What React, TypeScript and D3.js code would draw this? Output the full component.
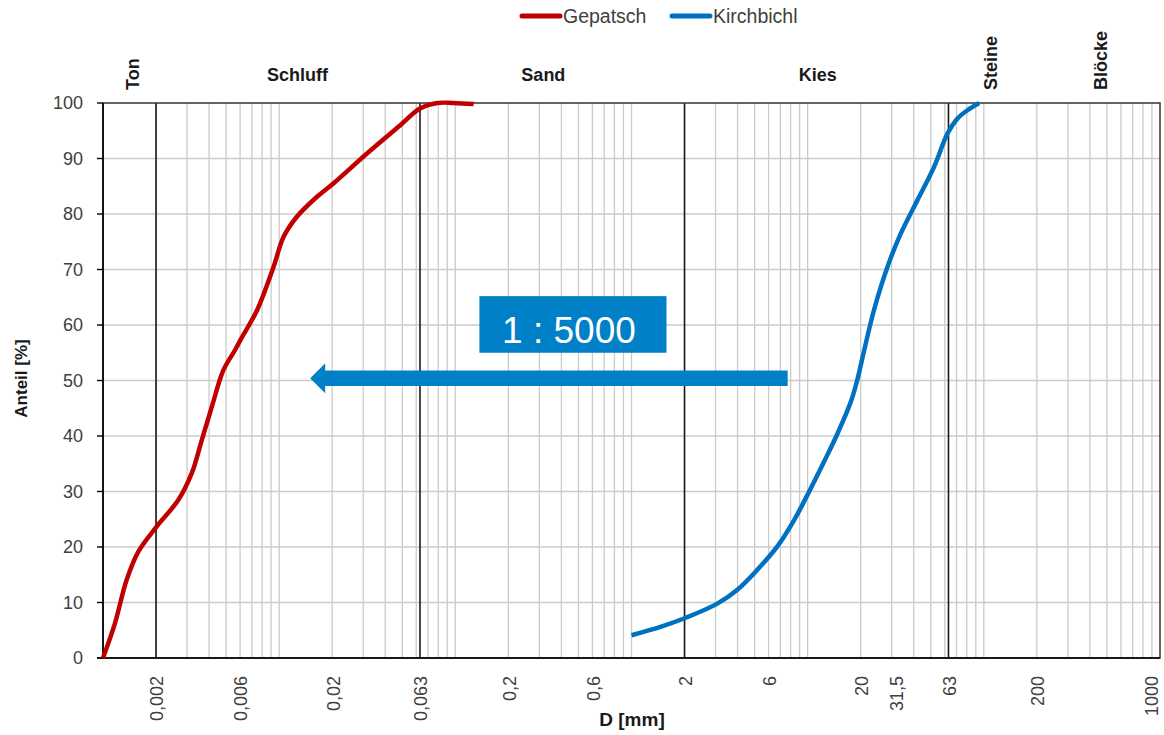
import React, { useEffect, useRef } from 'react';
import * as d3 from 'd3';

// grain size distribution, D in mm, share in %
const gepatschD = [0.001, 0.00117, 0.00136, 0.00159, 0.00202, 0.00268, 0.00319, 0.00364, 0.00415, 0.00483, 0.00562, 0.0061, 0.0075, 0.0093, 0.0106, 0.0126, 0.0164, 0.0203, 0.0315, 0.0487, 0.063, 0.079, 0.098, 0.127];
const gepatschP = [0, 6.3, 14, 19.2, 23.7, 28.5, 33.3, 39.3, 45.3, 51.9, 55.5, 57.6, 62.7, 70.5, 75.9, 79.5, 83.1, 85.5, 90.9, 96.0, 99.0, 100, 100, 99.8];

const kirchbichlD = [1.0, 1.46, 2.05, 3.07, 3.99, 5.18, 6.73, 8.36, 10.2, 12.4, 14.8, 17.6, 19.2, 20.5, 23.8, 28.4, 33.8, 42.0, 52.2, 62.2, 70.9, 80.8, 94.0];
const kirchbichlP = [4.1, 5.6, 7.3, 9.8, 12.3, 15.9, 20.1, 24.8, 30.0, 35.4, 40.5, 46.2, 50.3, 54.2, 62.7, 70.5, 76.5, 82.5, 88.5, 94.5, 97.2, 98.7, 100];

const seriesNames = ['Gepatsch', 'Kirchbichl'];
const seriesColors = ['#C00000', '#0070C0'];

const xTickValues = [0.002, 0.006, 0.02, 0.063, 0.2, 0.6, 2, 6, 20, 31.5, 63, 200, 1000];
const xTickLabels = ['0,002', '0,006', '0,02', '0,063', '0,2', '0,6', '2', '6', '20', '31,5', '63', '200', '1000'];
const yTickValues = [0, 10, 20, 30, 40, 50, 60, 70, 80, 90, 100];

// boundaries between soil classes
const classBounds = [0.002, 0.063, 2, 63];
const classNames = ['Ton', 'Schluff', 'Sand', 'Kies', 'Steine', 'Blöcke'];
const classLabelAt = [0.00148, 0.0127, 0.316, 11.4, 110, 462];
const classRotated = [true, false, false, false, true, true];

// scale annotation
const ratioText = '1 : 5000';
const arrowFrom = 7.7;
const arrowTo = 0.015;
const arrowLevel = 50.4;

const FONT = '"Liberation Sans", Arial, sans-serif';

const App: React.FC = () => {
  const svgRef = useRef<SVGSVGElement>(null);
  const width = 1164;
  const height = 735;

  useEffect(() => {
    document.body.style.margin = '0';
    if (!svgRef.current) return;
    const svg = d3.select(svgRef.current);
    svg.selectAll('*').remove();

    const x = d3.scaleLog().domain([0.001, 1000]).range([103, 1160]);
    const y = d3.scaleLinear().domain([0, 100]).range([658, 103]);
    const [x0, x1] = x.range();
    const [y0, y1] = y.range();

    // minor grid
    const minor = x.ticks().filter(d => d > 0.001 && d < 1000);
    svg.append('g')
      .selectAll('line')
      .data(minor)
      .enter()
      .append('line')
      .attr('x1', d => x(d)).attr('x2', d => x(d))
      .attr('y1', y0).attr('y2', y1)
      .attr('stroke', '#cbcbcb')
      .attr('stroke-width', 1.3);

    svg.append('g')
      .selectAll('line')
      .data(yTickValues.filter(v => v > 0 && v < 100))
      .enter()
      .append('line')
      .attr('x1', x0).attr('x2', x1)
      .attr('y1', d => y(d)).attr('y2', d => y(d))
      .attr('stroke', '#cbcbcb')
      .attr('stroke-width', 1.5);

    // class boundaries
    svg.append('g')
      .selectAll('line')
      .data(classBounds)
      .enter()
      .append('line')
      .attr('x1', d => x(d)).attr('x2', d => x(d))
      .attr('y1', y0).attr('y2', y1)
      .attr('stroke', '#1a1a1a')
      .attr('stroke-width', 1.6);

    // frame
    svg.append('rect')
      .attr('x', x0).attr('y', y1)
      .attr('width', x1 - x0).attr('height', y0 - y1)
      .attr('fill', 'none')
      .attr('stroke', '#333')
      .attr('stroke-width', 1.5);

    // y axis
    svg.append('line')
      .attr('x1', x0).attr('x2', x0).attr('y1', y0).attr('y2', y1)
      .attr('stroke', '#000').attr('stroke-width', 1.6);
    svg.append('line')
      .attr('x1', x0 - 6).attr('x2', x1).attr('y1', y0).attr('y2', y0)
      .attr('stroke', '#000').attr('stroke-width', 1.6);
    const yt = svg.append('g');
    yt.selectAll('line')
      .data(yTickValues)
      .enter()
      .append('line')
      .attr('x1', x0 - 6).attr('x2', x0)
      .attr('y1', d => y(d)).attr('y2', d => y(d))
      .attr('stroke', '#000').attr('stroke-width', 1.4);
    yt.selectAll('text')
      .data(yTickValues)
      .enter()
      .append('text')
      .attr('x', x0 - 20)
      .attr('y', d => y(d))
      .attr('dy', '0.35em')
      .attr('text-anchor', 'end')
      .style('font-family', FONT)
      .style('font-size', '18px')
      .attr('fill', '#404040')
      .text(d => d);

    // x tick labels (kept inside the right edge)
    svg.append('g')
      .selectAll('text')
      .data(xTickValues)
      .enter()
      .append('text')
      .attr('transform', d => `translate(${Math.min(x(d) + 1, x1 - 8)},${y0 + 18}) rotate(-90)`)
      .attr('dy', '0.35em')
      .attr('text-anchor', 'end')
      .style('font-family', FONT)
      .style('font-size', '18px')
      .attr('fill', '#404040')
      .text((d, i) => xTickLabels[i]);

    // class names
    svg.append('g')
      .selectAll('text')
      .data(classNames)
      .enter()
      .append('text')
      .attr('transform', (d, i) => classRotated[i]
        ? `translate(${x(classLabelAt[i])},90) rotate(-90)`
        : `translate(${x(classLabelAt[i])},81)`)
      .attr('dy', (d, i) => classRotated[i] ? '0.35em' : 0)
      .attr('text-anchor', (d, i) => classRotated[i] ? 'start' : 'middle')
      .style('font-family', FONT)
      .style('font-size', '18px')
      .style('font-weight', 'bold')
      .attr('fill', '#1a1a1a')
      .text(d => d);

    // axis titles
    svg.append('text')
      .attr('transform', `translate(21,${(y0 + y1) / 2 - 2}) rotate(-90)`)
      .attr('dy', '0.35em')
      .attr('text-anchor', 'middle')
      .style('font-family', FONT)
      .style('font-size', '17px')
      .style('font-weight', 'bold')
      .attr('fill', '#1a1a1a')
      .text('Anteil [%]');

    svg.append('text')
      .attr('x', 632)
      .attr('y', 726)
      .attr('text-anchor', 'middle')
      .style('font-family', FONT)
      .style('font-size', '19px')
      .style('font-weight', 'bold')
      .attr('fill', '#1a1a1a')
      .text('D [mm]');

    // curves
    const line = d3.line<[number, number]>()
      .x(d => x(d[0]))
      .y(d => y(d[1]))
      .curve(d3.curveCatmullRom.alpha(0.5));

    const series: [number, number][][] = [
      gepatschD.map((d, i) => [d, gepatschP[i]] as [number, number]),
      kirchbichlD.map((d, i) => [d, kirchbichlP[i]] as [number, number]),
    ];

    series.forEach((s, i) => {
      svg.append('path')
        .datum(s)
        .attr('fill', 'none')
        .attr('stroke', seriesColors[i])
        .attr('stroke-width', 4.5)
        .attr('stroke-linejoin', 'round')
        .attr('d', line);
    });

    // annotation box
    const boxL = x(0.137), boxR = x(1.58);
    const boxT = y(65.2), boxB = y(55);
    svg.append('rect')
      .attr('x', boxL).attr('y', boxT)
      .attr('width', boxR - boxL).attr('height', boxB - boxT)
      .attr('fill', '#0080C6');
    svg.append('text')
      .attr('x', (boxL + boxR) / 2 - 4)
      .attr('y', boxB - 10)
      .attr('text-anchor', 'middle')
      .style('font-family', FONT)
      .style('font-size', '37px')
      .attr('fill', '#fff')
      .text(ratioText);

    // arrow
    const ax0 = x(arrowFrom), ax1 = x(arrowTo), ay = y(arrowLevel);
    const half = 7.7, head = 15, headW = 15;
    const pts: [number, number][] = [
      [ax0, ay - half], [ax1 + head, ay - half], [ax1 + head, ay - headW],
      [ax1, ay], [ax1 + head, ay + headW], [ax1 + head, ay + half], [ax0, ay + half],
    ];
    svg.append('polygon')
      .attr('points', pts.map(p => p.join(',')).join(' '))
      .attr('fill', '#0080C6');

    // legend
    const legendX = [522, 672];
    seriesNames.forEach((name, i) => {
      svg.append('line')
        .attr('x1', legendX[i]).attr('x2', legendX[i] + 38)
        .attr('y1', 16).attr('y2', 16)
        .attr('stroke', seriesColors[i])
        .attr('stroke-width', 5)
        .attr('stroke-linecap', 'round');
      svg.append('text')
        .attr('x', legendX[i] + 41)
        .attr('y', 23)
        .style('font-family', FONT)
        .style('font-size', '19.5px')
        .attr('fill', '#404040')
        .text(name);
    });
  }, []);

  return (
    <svg
      ref={svgRef}
      width={width}
      height={height}
      style={{ display: 'block', background: '#fff' }}
    />
  );
};

export default App;
